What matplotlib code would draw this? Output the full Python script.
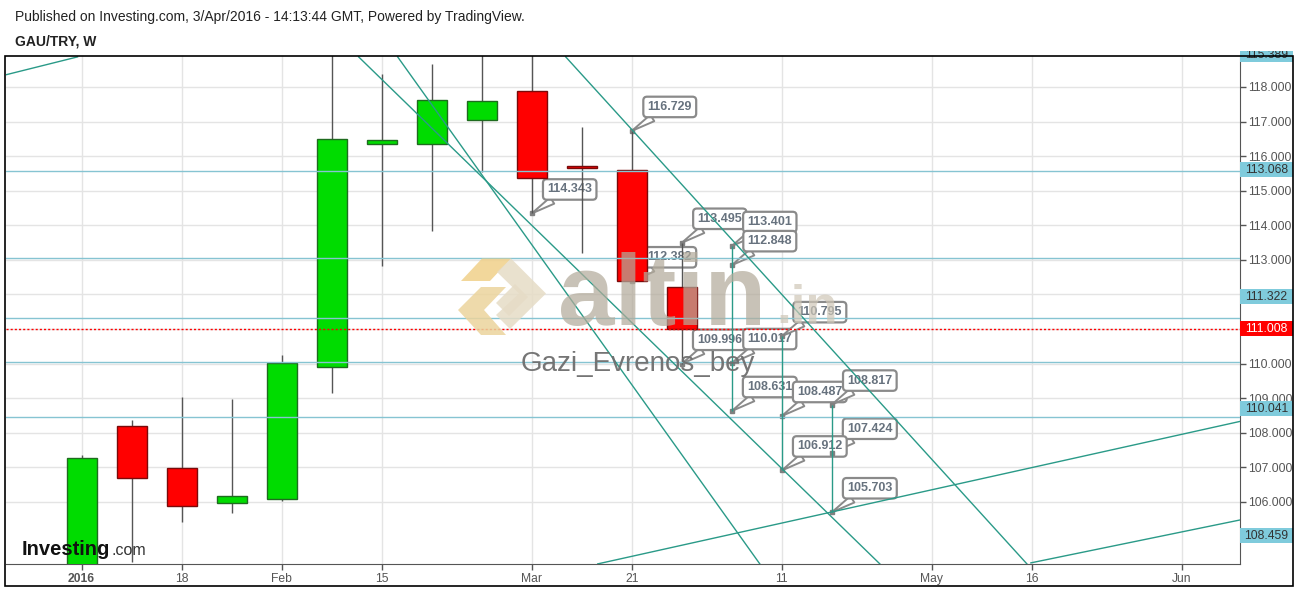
import matplotlib
matplotlib.use("Agg")
import matplotlib.pyplot as plt
from matplotlib.patches import Rectangle, Polygon
from matplotlib.transforms import Bbox, TransformedBbox, blended_transform_factory

plt.rcParams['font.family'] = ['Liberation Sans', 'DejaVu Sans']

W, H = 1297, 589

# weekly GAU/TRY candles, week 0 = 4 Jan 2016
weeks = list(range(13))
opens = [103.90, 108.19, 106.97, 105.96, 106.10, 109.89, 116.34, 116.36, 117.05, 117.87, 115.72, 115.59, 112.23]
highs = [107.36, 108.37, 109.03, 108.98, 110.25, 119.60, 118.38, 118.67, 119.40, 119.30, 116.85, 116.729, 113.495]
lows = [103.80, 104.27, 105.43, 105.69, 106.03, 109.16, 112.82, 113.84, 115.55, 114.343, 113.21, 112.382, 109.996]
closes = [107.26, 106.70, 105.89, 106.17, 110.01, 116.49, 116.47, 117.61, 117.59, 115.36, 115.67, 112.382, 111.008]

tick_pos = [0, 2, 4, 6, 9, 11, 14, 17, 19, 22]
tick_text = ['2016', '18', 'Feb', '15', 'Mar', '21', '11', 'May', '16', 'Jun']
price_ticks = list(range(106, 119))

# horizontal levels and the tags shown on the price scale
hlevels = [115.56, 113.068, 111.322, 110.041, 108.459]
tag_text = ['115.389', '113.068', '111.322', '110.041', '108.459']
tag_at = [118.925, 115.60, 111.928, 108.689, 105.017]
last_price = 111.008

# trend lines: (week, price) start and end
trend_x = [(5.54, 15.96), (6.32, 13.56), (9.68, 18.90), (10.32, 23.16), (18.98, 23.16), (-1.52, -0.08)]
trend_y = [(118.87, 104.21), (118.87, 104.21), (118.87, 104.21), (104.21, 108.33), (104.24, 105.48), (118.35, 118.87)]

# measuring lines
meas_x = [13, 14, 15]
meas_top = [113.401, 110.795, 108.817]
meas_bot = [108.631, 106.912, 105.703]

# price callouts
call_x = [9, 11, 12, 11, 12, 13, 13, 13, 14, 13, 14, 15, 15, 14, 15]
call_v = [114.343, 116.729, 113.495, 112.382, 109.996, 113.401, 112.848, 110.017, 110.795,
          108.631, 108.487, 108.817, 107.424, 106.912, 105.703]

teal = '#2a9a88'

fig = plt.figure(figsize=(W / 100, H / 100), dpi=100)
fig.patch.set_facecolor('white')
ax = fig.add_axes([5.5 / W, (H - 564) / H, (1240 - 5.5) / W, (564 - 56) / H])
ax.set_xlim(-1.52, 23.16)
ax.set_ylim(104.207, 118.896)

ax.set_yticks(price_ticks)
ax.set_yticklabels([f'{v:.3f}' for v in price_ticks])
ax.yaxis.tick_right()
ax.set_xticks(tick_pos)
ax.set_xticklabels(tick_text)
ax.get_xticklabels()[0].set_fontweight('bold')
ax.tick_params(axis='both', colors='#555555', labelcolor='#555555', labelsize=8.7, length=4, width=1)
ax.tick_params(axis='x', pad=2.5)
ax.tick_params(axis='y', pad=2)
ax.grid(color='#e4e4e4', lw=1)
ax.set_axisbelow(True)
for s in ['top', 'left']:
    ax.spines[s].set_visible(False)
for s in ['bottom', 'right']:
    ax.spines[s].set_color('#555555')

# horizontal levels
for lv in hlevels:
    ax.axhline(lv, color='#86c4d2', lw=1, zorder=4)
ax.axhline(last_price, color='#ff0000', lw=1, ls=(0, (1.5, 1.5)), zorder=4.2)

# callouts (under the candles)
for b, v in zip(call_x, call_v):
    ax.plot(b, v, 's', ms=2.5, color='#808080', zorder=2.6)
    ax.annotate(f'{v:.3f}', xy=(b, v), xytext=(38, 24), textcoords='offset pixels',
                ha='center', va='center', fontsize=9, fontweight='bold', color='#67727e',
                bbox=dict(boxstyle='round,pad=0.34,rounding_size=0.3', fc='white', ec='#8a8a8a', lw=1.6),
                arrowprops=dict(arrowstyle='wedge,tail_width=0.6,shrink_factor=0.5', fc='white',
                                ec='#8a8a8a', lw=1.4, shrinkA=0, shrinkB=0),
                zorder=2.5)

# candles
for x, o, h, l, c in zip(weeks, opens, highs, lows, closes):
    up = c >= o
    ax.vlines(x, l, h, color='#555555', lw=1, zorder=3)
    ax.bar(x, abs(c - o), bottom=min(o, c), width=0.6,
           color='#00dc00' if up else '#ff0000',
           edgecolor='#1f6b1f' if up else '#7a0a0a', lw=1, zorder=3.5)

# drawings
for xs, ys in zip(trend_x, trend_y):
    ax.plot(xs, ys, color=teal, lw=1, zorder=4.5)
ax.vlines(meas_x, meas_bot, meas_top, color=teal, lw=1, zorder=4.5)

# price scale tags
tr = blended_transform_factory(ax.transAxes, ax.transData)
tag_w = 53 / 1234.5
tag_h = 15 / 34.583
top_clip = TransformedBbox(Bbox([[0, 0], [1, 1 - 51 / H]]), fig.transFigure)
for txt, lv in zip(tag_text, tag_at):
    r = Rectangle((1.0, lv - tag_h / 2), tag_w, tag_h, transform=tr, fc='#7fcbdc', ec='none',
                  zorder=6, clip_on=True)
    ax.add_patch(r)
    r.set_clip_box(top_clip)
    t = ax.text(1.0 + tag_w / 2, lv, txt, transform=tr, ha='center', va='center', fontsize=8.7,
                color='#333333', zorder=7, clip_on=True)
    t.set_clip_box(top_clip)
r = Rectangle((1.0, last_price - tag_h / 2), tag_w, tag_h, transform=tr, fc='#ff0000', ec='none',
              zorder=6, clip_on=False)
ax.add_patch(r)
ax.text(1.0 + tag_w / 2, last_price, f'{last_price:.3f}', transform=tr, ha='center', va='center',
        fontsize=8.7, color='white', zorder=7, clip_on=False)

# outer frame
fig.add_artist(Rectangle((5 / W, 1 - 586 / H), (1293 - 5) / W, (586 - 56) / H, transform=fig.transFigure,
                         fill=False, ec='black', lw=1.2, zorder=10))


def px(x, y):
    return (x / W, 1 - y / H)


# header
fig.text(*px(15, 17), 'Published on Investing.com, 3/Apr/2016 - 14:13:44 GMT, Powered by TradingView.',
         fontsize=10, color='#222222', va='center', ha='left')
fig.text(*px(15, 41), 'GAU/TRY, W', fontsize=10, fontweight='bold', color='#222222', va='center', ha='left')

# watermark logo
gold = [(461, 281), (482, 258.5), (511, 258.5), (490, 281)]
gold2 = [(481, 287), (506, 287), (484, 310), (506, 335), (481, 335), (458, 310)]
beige = [(511, 258.5), (546, 293.5), (510, 329), (496, 315), (519, 293.5), (497, 272)]
beige2 = [(496, 303), (515, 284), (528, 297), (509, 316)]
for pts, col in [(gold, '#f0d08a'), (gold2, '#ecd49c'), (beige, '#e6dcc6'), (beige2, '#e6dcc6')]:
    fig.add_artist(Polygon([px(*p) for p in pts], closed=True, transform=fig.transFigure,
                           fc=col, ec='none', alpha=0.85, zorder=8))
fig.text(*px(558, 325), 'altin', fontsize=73, fontweight='bold', color='#b3ab9b', alpha=0.72,
         va='baseline', ha='left', zorder=8)
fig.text(*px(776, 323), '.in', fontsize=38, fontweight='bold', color='#cfc7b7', alpha=0.7,
         va='baseline', ha='left', zorder=8)
fig.text(*px(521, 371), 'Gazi_Evrenos_bey', fontsize=20, color='#6e6e6e', alpha=0.95,
         va='baseline', ha='left', zorder=8)

# investing logo
fig.text(*px(22, 555), 'Investing', fontsize=14.5, fontweight='bold', color='#111111',
         va='baseline', ha='left', zorder=8)
fig.text(*px(111, 555), '.com', fontsize=11.5, color='#333333', va='baseline', ha='left', zorder=8)

fig.savefig('out.png', dpi=100)
